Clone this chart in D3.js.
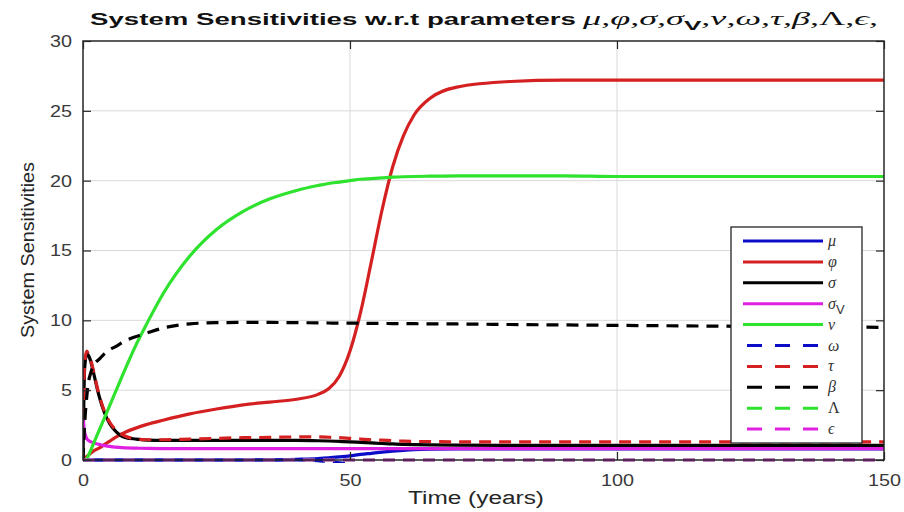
<!DOCTYPE html>
<html><head><meta charset="utf-8">
<script src="https://cdn.jsdelivr.net/npm/d3@7"></script>
<style>
html,body{margin:0;padding:0;background:#fff;}
svg{display:block;}
</style></head>
<body>
<svg id="chart" width="904" height="512"></svg>
<script>
// ---------------- data ----------------
const time   = [0,0.3,0.7,1,1.5,2,3,4,5,6,8,10,12,15,20,25,30,35,40,44,46,48,50,52,54,56,58,60,62,65,70,80,90,100,120,150];
const mu     = [0,0,0,0,0,0,0,0,0,0,0,0,0,0,0,0,0,0.01,0.05,0.1,0.15,0.22,0.3,0.4,0.48,0.56,0.63,0.69,0.74,0.78,0.8,0.8,0.8,0.8,0.8,0.8];
const phi    = [0,0.1,0.25,0.35,0.5,0.65,0.85,1.1,1.35,1.6,2.0,2.3,2.55,2.85,3.3,3.65,3.95,4.15,4.35,4.7,5.1,6.0,7.8,10.6,14.2,17.9,21.0,23.2,24.7,25.9,26.7,27.1,27.2,27.2,27.2,27.2];
const sigma  = [0,6.5,7.6,7.5,7.0,6.2,4.6,3.4,2.6,2.1,1.6,1.5,1.42,1.4,1.4,1.4,1.4,1.4,1.4,1.38,1.36,1.33,1.3,1.26,1.22,1.18,1.15,1.12,1.1,1.08,1.06,1.05,1.05,1.05,1.05,1.05];
const sigmaV = [3.0,2.0,1.55,1.4,1.3,1.22,1.12,1.03,0.97,0.92,0.87,0.85,0.83,0.82,0.82,0.82,0.82,0.82,0.82,0.82,0.82,0.82,0.82,0.82,0.82,0.82,0.82,0.82,0.82,0.82,0.82,0.82,0.82,0.82,0.82,0.82];
const nu     = [0,0,0.1,0.3,0.75,1.2,2.1,3.0,3.9,4.8,6.6,8.3,9.8,11.9,14.6,16.5,17.8,18.7,19.3,19.65,19.8,19.9,20.0,20.1,20.15,20.2,20.25,20.28,20.3,20.32,20.35,20.35,20.35,20.3,20.3,20.3];
const omega  = [0,0,0,0,0,0,0,0,0,0,0,0,0,0,0,0,0,0,0,-0.05,-0.1,-0.2,-0.3,-0.4,-0.5,-0.6,-0.7,-0.75,-0.8,-0.8,-0.8,-0.8,-0.8,-0.8,-0.8,-0.8];
const tau    = [0,6.8,7.8,7.6,7.1,6.3,4.7,3.5,2.7,2.2,1.7,1.5,1.45,1.45,1.5,1.55,1.6,1.62,1.65,1.65,1.63,1.6,1.55,1.5,1.45,1.42,1.38,1.35,1.33,1.32,1.3,1.3,1.3,1.3,1.3,1.3];
const beta   = [0,2.5,4.5,5.5,6.3,6.8,7.2,7.6,7.9,8.1,8.55,8.85,9.1,9.45,9.75,9.83,9.85,9.85,9.83,9.82,9.81,9.8,9.8,9.79,9.78,9.78,9.77,9.77,9.76,9.75,9.74,9.7,9.67,9.64,9.58,9.5];
const lambda = [0,0,0,0,0,0,0,0,0,0,0,0,0,0,0,0,0,0,0,0,0,0,0,0,0,0,0,0,0,0,0,0,0,0,0,0];
const epsil  = [0,0,0,0,0,0,0,0,0,0,0,0,0,0,0,0,0,0,0,0,0,0,0,0,0,0,0,0,0,0,0,0,0,0,0,0];

const seriesNames  = ["μ","φ","σ","σV","ν","ω","τ","β","Λ","ϵ"];
const seriesValues = [mu,phi,sigma,sigmaV,nu,omega,tau,beta,lambda,epsil];
const seriesColors = ["#0c0cc8","#d42020","#000000","#e020e0","#2ee22e","#0c0cc8","#d42020","#000000","#2ee22e","#e020e0"];
const seriesDashed = [false,false,false,false,false,true,true,true,true,true];

const xTicks = [0,50,100,150];
const yTicks = [0,5,10,15,20,25,30];

// ---------------- layout ----------------
const L=83, R=884, T=41, B=460;
const svg = d3.select("#chart");
const x = d3.scaleLinear().domain([0,150]).range([L,R]);
const y = d3.scaleLinear().domain([0,30]).range([B,T]);
const axisCol = "#262626";
const fontSans = "'Liberation Sans', Arial, Helvetica, sans-serif";
const fontSerif = "'Liberation Serif', 'Times New Roman', serif";

// grid
const grid = svg.append("g");
grid.selectAll("line.gx").data(xTicks.slice(1,-1)).enter().append("line")
  .attr("x1",d=>x(d)).attr("x2",d=>x(d)).attr("y1",T).attr("y2",B)
  .attr("stroke","#d9d9d9").attr("stroke-width",1);
grid.selectAll("line.gy").data(yTicks.slice(1,-1)).enter().append("line")
  .attr("x1",L).attr("x2",R).attr("y1",d=>y(d)).attr("y2",d=>y(d))
  .attr("stroke","#d9d9d9").attr("stroke-width",1);

// lines
svg.append("clipPath").attr("id","clip").append("rect")
  .attr("x",L).attr("y",T-2).attr("width",R-L).attr("height",B-T+5);
const plot = svg.append("g").attr("clip-path","url(#clip)");
const line = d3.line().x((d,i)=>x(time[i])).y(d=>y(d)).curve(d3.curveMonotoneX);
seriesValues.forEach((vals,k)=>{
  const p = plot.append("path").datum(vals).attr("d",line)
    .attr("fill","none").attr("stroke",seriesColors[k]).attr("stroke-width",3.2)
    .attr("stroke-linejoin","round");
  if(seriesDashed[k]){
    p.attr("stroke-dasharray","12,8");
    if(seriesNames[k]==="ω") p.attr("stroke-dashoffset",10);
  }
});

// axes (ticks inside, mirrored)
const fmtLabels = g=>{
  g.select(".domain").remove();
  g.selectAll(".tick line").attr("stroke",axisCol).attr("stroke-width",1.2);
  g.selectAll(".tick text").attr("fill","#3a3a3a").attr("font-family",fontSans).attr("font-size",17)
    .attr("textLength",function(){return this.textContent.length*11;}).attr("lengthAdjust","spacingAndGlyphs");
};
svg.append("g").attr("transform",`translate(0,${B})`)
  .call(d3.axisBottom(x).tickValues(xTicks).tickSize(-8).tickPadding(14)).call(fmtLabels);
svg.append("g").attr("transform",`translate(${L},0)`)
  .call(d3.axisLeft(y).tickValues(yTicks).tickSize(-8).tickPadding(11)).call(fmtLabels);
svg.append("g").attr("transform",`translate(0,${T})`)
  .call(d3.axisTop(x).tickValues(xTicks).tickSize(-8).tickFormat("")).call(fmtLabels);
svg.append("g").attr("transform",`translate(${R},0)`)
  .call(d3.axisRight(y).tickValues(yTicks).tickSize(-8).tickFormat("")).call(fmtLabels);
svg.selectAll(".tick text").attr("font-family",fontSans);

// box
svg.append("rect").attr("x",L).attr("y",T).attr("width",R-L).attr("height",B-T)
  .attr("fill","none").attr("stroke",axisCol).attr("stroke-width",1.5);

// axis titles
svg.append("text").attr("x",476).attr("y",504).attr("text-anchor","middle")
  .attr("font-family",fontSans).attr("font-size",18).attr("fill","#262626")
  .attr("textLength",136).attr("lengthAdjust","spacingAndGlyphs").text("Time (years)");
svg.append("text").attr("transform","translate(34,250) rotate(-90)").attr("text-anchor","middle")
  .attr("font-family",fontSans).attr("font-size",18).attr("fill","#262626")
  .attr("textLength",176).attr("lengthAdjust","spacingAndGlyphs").text("System Sensitivities");

// title
const title = svg.append("g");
title.append("text").attr("x",90).attr("y",25).attr("font-family",fontSans).attr("font-weight","bold")
  .attr("font-size",17).attr("fill","#111").attr("textLength",486).attr("lengthAdjust","spacingAndGlyphs")
  .text("System Sensitivities w.r.t parameters");
const gt = title.append("text").attr("x",583).attr("y",25).attr("font-family",fontSerif)
  .attr("font-size",18).attr("fill","#111");
gt.append("tspan").attr("font-style","italic").text("μ,φ,σ,σ");
gt.append("tspan").attr("font-family",fontSans).attr("font-weight","bold").attr("font-size",13).attr("dy",5).text("V");
gt.append("tspan").attr("font-style","italic").attr("dy",-5).text(",ν,ω,τ,β,");
gt.append("tspan").text("Λ,");
gt.append("tspan").attr("font-style","italic").text("ϵ,");
gt.attr("textLength",295).attr("lengthAdjust","spacingAndGlyphs");

// legend
const lg = svg.append("g");
lg.append("rect").attr("x",731).attr("y",227).attr("width",131).attr("height",216)
  .attr("fill","#fff").attr("stroke",axisCol).attr("stroke-width",1.3);
const ly0 = 241, lstep = 20.9;
seriesNames.forEach((nm,k)=>{
  const yy = ly0 + k*lstep;
  const dashed = seriesDashed[k];
  const ln = lg.append("line").attr("x1",dashed?747:743).attr("x2",dashed?821:823).attr("y1",yy).attr("y2",yy)
    .attr("stroke",seriesColors[k]).attr("stroke-width",3);
  if(dashed) ln.attr("stroke-dasharray","15,13");
  const t = lg.append("text").attr("x",828).attr("y",yy+5).attr("font-family",fontSerif)
    .attr("font-size",16).attr("fill","#333");
  if(nm==="σV"){
    t.append("tspan").attr("font-style","italic").text("σ");
    t.append("tspan").attr("font-family",fontSans).attr("font-size",13).attr("dy",5).text("V");
  } else if(nm==="Λ"){
    t.text("Λ");
  } else {
    t.attr("font-style","italic").text(nm);
  }
});
</script>
</body></html>
